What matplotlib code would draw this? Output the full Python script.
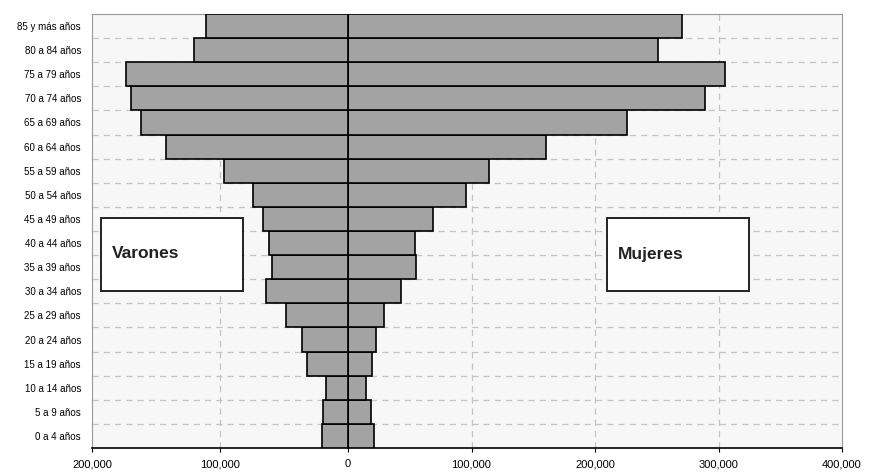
import matplotlib
matplotlib.use("Agg")
import matplotlib.pyplot as plt
from matplotlib.patches import Rectangle
from matplotlib.ticker import FuncFormatter

# age groups, bottom to top
grupos = ["0 a 4 años", "5 a 9 años", "10 a 14 años", "15 a 19 años", "20 a 24 años",
          "25 a 29 años", "30 a 34 años", "35 a 39 años", "40 a 44 años", "45 a 49 años",
          "50 a 54 años", "55 a 59 años", "60 a 64 años", "65 a 69 años", "70 a 74 años",
          "75 a 79 años", "80 a 84 años", "85 y más años"]
varones = [20100, 19300, 17000, 31800, 36200, 48700, 64300, 59600, 61500, 66100,
           74500, 96600, 142400, 162000, 169500, 173400, 120600, 111200]
mujeres = [20800, 18600, 14800, 19200, 22400, 29400, 42900, 55100, 54300, 68600,
           95800, 114400, 160000, 225600, 288800, 305300, 250700, 270700]
ticks_izq = [200000, 100000, 0]
ticks_der = [100000, 200000, 300000, 400000]

plt.rcParams['font.family'] = ['Liberation Sans', 'DejaVu Sans']

fig = plt.figure(figsize=(8.84, 4.76), dpi=100)
axL = fig.add_axes([92/884, 28/476, 256/884, 434/476])
axR = fig.add_axes([348/884, 28/476, 494/884, 434/476], sharey=axL)

y = list(range(len(grupos)))
bg = "#f7f7f7"
grid_c = "#c4c4c4"
bar_kw = dict(height=1.0, color="#a3a3a3", edgecolor="black", linewidth=1.2, zorder=3)
axL.barh(y, varones, **bar_kw)
axR.barh(y, mujeres, **bar_kw)

fmt = FuncFormatter(lambda v, p: f"{int(v):,}")
for ax in (axL, axR):
    ax.set_facecolor(bg)
    ax.set_ylim(-0.5, len(grupos) - 0.5)
    for b in range(len(grupos) - 1):
        ax.axhline(b + 0.5, color=grid_c, lw=0.9, ls=(0, (5, 4)), zorder=1)
    ax.xaxis.set_major_formatter(fmt)
    ax.tick_params(axis="x", labelsize=8, length=3, colors="black", pad=5)
    for s in ("top", "right", "left"):
        ax.spines[s].set_color("#999999")
    ax.spines["bottom"].set_color("black")
    ax.spines["bottom"].set_linewidth(1.2)

axL.set_xlim(200000, 0)
axL.set_xticks(ticks_izq)
axL.spines["right"].set_visible(False)
axL.set_yticks(y)
axL.set_yticklabels(grupos)
axL.tick_params(axis="y", labelsize=7, length=0, pad=8)
axL.axvline(100000, color=grid_c, lw=0.9, ls=(0, (5, 4)), zorder=1)

axR.set_xlim(0, 400000)
axR.set_xticks(ticks_der)
axR.spines["left"].set_visible(False)
axR.tick_params(axis="y", left=False, labelleft=False)
for t in ticks_der[:-1]:
    axR.axvline(t, color=grid_c, lw=0.9, ls=(0, (5, 4)), zorder=1)
axR.axvline(0, color="black", lw=1.4, zorder=4)

# label boxes
for x0, w, txt in [(101, 142, "Varones"), (607, 142, "Mujeres")]:
    fig.patches.append(Rectangle((x0/884, (476-291)/476), w/884, 73/476,
                                 transform=fig.transFigure, facecolor="white",
                                 edgecolor="#222222", linewidth=1.4, zorder=10))
    fig.text((x0 + 11)/884, (476-254)/476, txt, fontsize=12.5, fontweight="bold",
             color="#222222", va="center", ha="left", zorder=11)

fig.savefig("out.png", dpi=100)
